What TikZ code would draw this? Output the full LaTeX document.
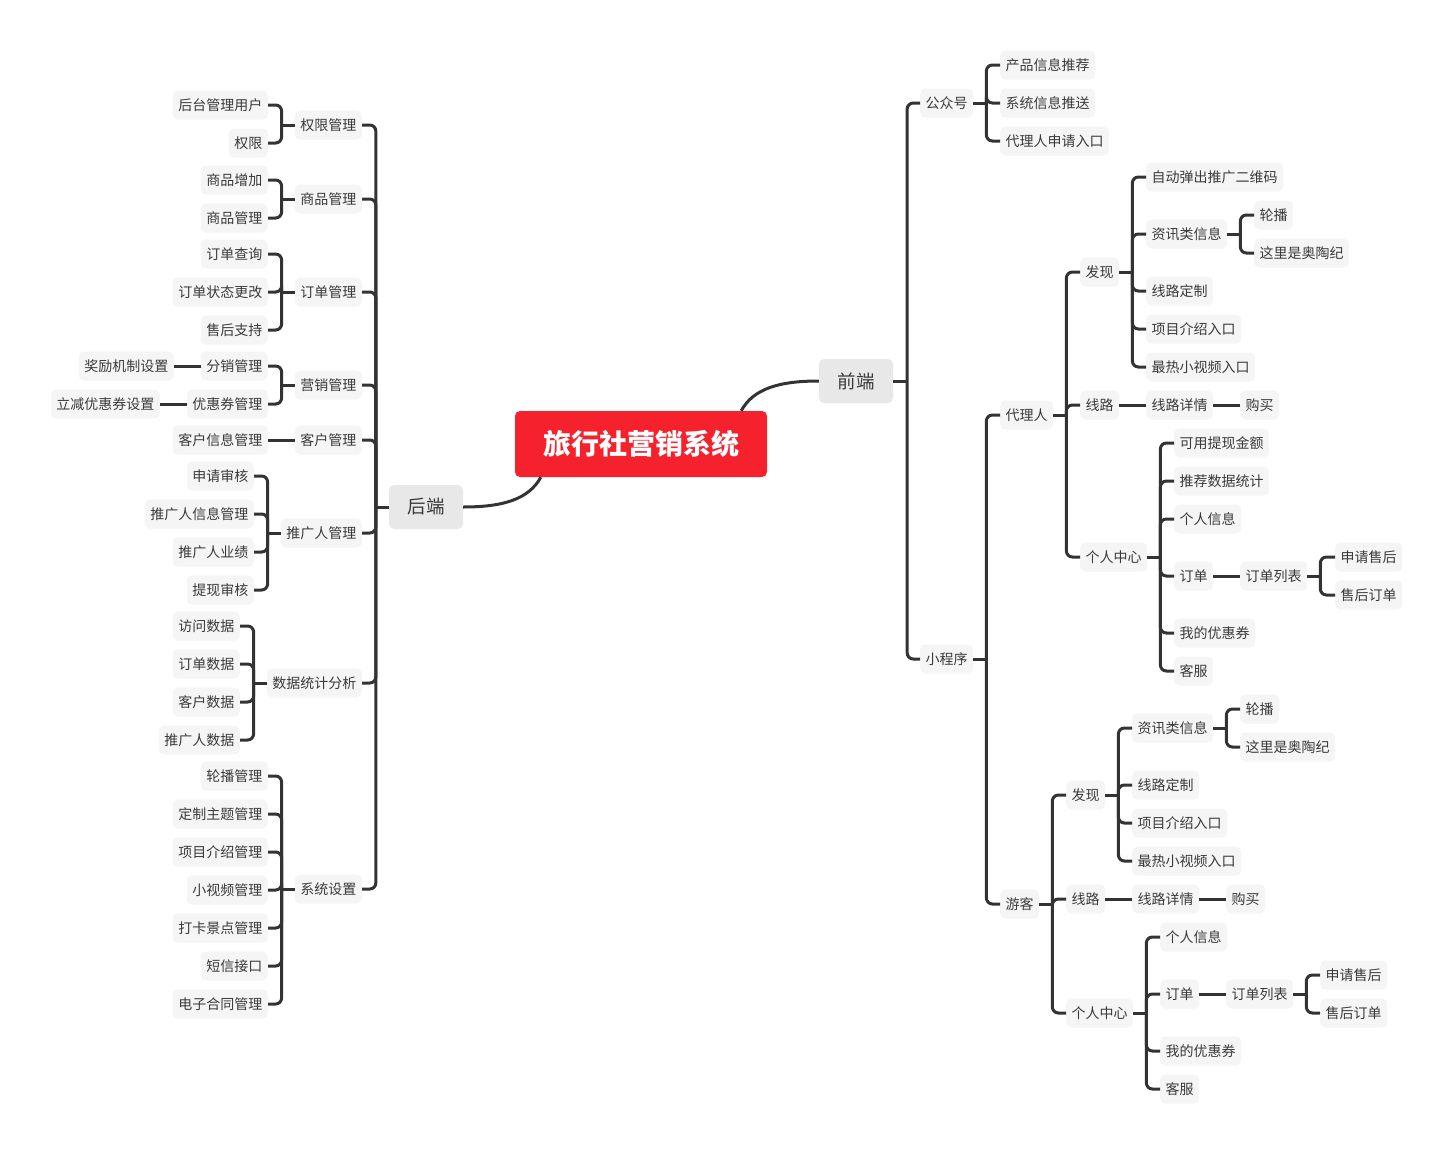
\documentclass[tikz,border=0pt]{standalone}
\usepackage{fontspec}
\setmainfont{Noto Sans CJK SC}
\usepackage{tikz}
\usetikzlibrary{positioning}
\usetikzlibrary{calc}
\definecolor{linkgray}{HTML}{333333}
\definecolor{textgray}{HTML}{3A3A3A}
\definecolor{leafgray}{HTML}{F5F5F5}
\definecolor{topicgray}{HTML}{E8E8E8}
\definecolor{rootred}{HTML}{F5222D}
\tikzset {
  % leaf boxes
  leaf/.style = {fill=leafgray, rounded corners=5pt, text=textgray, inner xsep=5.5pt, inner ysep=0pt,
    minimum height=29pt, font=\fontsize{14}{16}\selectfont},
  lft/.style = {leaf, anchor=east},
  rgt/.style = {leaf, anchor=west},
  % the two main branches
  topic/.style = {fill=topicgray, rounded corners=5pt, text=textgray, minimum width=74pt,
    minimum height=44pt, font=\fontsize{18.5}{20}\selectfont},
  % central topic
  root/.style = {fill=rootred, rounded corners=5pt, text=white, minimum width=252pt,
    minimum height=66pt, font=\fontsize{28}{30}\selectfont\bfseries},
  % connectors
  link/.style = {draw=linkgray, line width=3pt},
  branch/.style = {link, rounded corners=6pt},
}

\begin{document}
\begin{tikzpicture}[x=1pt, y=-1pt]
      \useasboundingbox (0,0) rectangle (1452,1154);

      \node[root] (root) at (641,444) {旅行社营销系统};
      \node[topic] (fe) at (856,381) {前端};
      \node[topic] (be) at (426,507) {后端};

      % 前端
      \node[rgt] (gzh) at (920,103) {公众号};
      \node[rgt] (gzh1) at (1000,65) {产品信息推荐};
      \node[rgt] (gzh2) at (1000,103) {系统信息推送};
      \node[rgt] (gzh3) at (1000,141) {代理人申请入口};

      \node[rgt] (xcx) at (920,659) {小程序};
      \node[rgt] (dl) at (1000,415) {代理人};
      \node[rgt] (yk) at (1000,904) {游客};

      \node[rgt] (dlfx) at (1080,272) {发现};
      \node[rgt] (dlxl) at (1080,405) {线路};
      \node[rgt] (dlgr) at (1080,557) {个人中心};

      \node[rgt] (dlfx1) at (1146,177) {自动弹出推广二维码};
      \node[rgt] (dlfx2) at (1146,234) {资讯类信息};
      \node[rgt] (dlfx3) at (1146,291) {线路定制};
      \node[rgt] (dlfx4) at (1146,329) {项目介绍入口};
      \node[rgt] (dlfx5) at (1146,367) {最热小视频入口};
      \node[rgt] (dlzx1) at (1254,215) {轮播};
      \node[rgt] (dlzx2) at (1254,253) {这里是奥陶纪};

      \node[rgt] (dlxq) at (1146,405) {线路详情};
      \node[rgt] (dlgm) at (1240,405) {购买};

      \node[rgt] (dlgr1) at (1174,443) {可用提现金额};
      \node[rgt] (dlgr2) at (1174,481) {推荐数据统计};
      \node[rgt] (dlgr3) at (1174,519) {个人信息};
      \node[rgt] (dlgr4) at (1174,576) {订单};
      \node[rgt] (dlgr5) at (1174,633) {我的优惠券};
      \node[rgt] (dlgr6) at (1174,671) {客服};
      \node[rgt] (dllb) at (1240,576) {订单列表};
      \node[rgt] (dlsh1) at (1335,557) {申请售后};
      \node[rgt] (dlsh2) at (1335,595) {售后订单};

      \node[rgt] (ykfx) at (1066,795) {发现};
      \node[rgt] (ykxl) at (1066,899) {线路};
      \node[rgt] (ykgr) at (1066,1013) {个人中心};

      \node[rgt] (ykfx1) at (1132,728) {资讯类信息};
      \node[rgt] (ykfx2) at (1132,785) {线路定制};
      \node[rgt] (ykfx3) at (1132,823) {项目介绍入口};
      \node[rgt] (ykfx4) at (1132,861) {最热小视频入口};
      \node[rgt] (ykzx1) at (1240,709) {轮播};
      \node[rgt] (ykzx2) at (1240,747) {这里是奥陶纪};

      \node[rgt] (ykxq) at (1132,899) {线路详情};
      \node[rgt] (ykgm) at (1226,899) {购买};

      \node[rgt] (ykgr1) at (1160,937) {个人信息};
      \node[rgt] (ykgr2) at (1160,994) {订单};
      \node[rgt] (ykgr3) at (1160,1051) {我的优惠券};
      \node[rgt] (ykgr4) at (1160,1089) {客服};
      \node[rgt] (yklb) at (1226,994) {订单列表};
      \node[rgt] (yksh1) at (1320,975) {申请售后};
      \node[rgt] (yksh2) at (1320,1013) {售后订单};

      % 后端
      \node[lft] (qx) at (362,125) {权限管理};
      \node[lft] (qx1) at (268,105) {后台管理用户};
      \node[lft] (qx2) at (268,143) {权限};

      \node[lft] (sp) at (362,199) {商品管理};
      \node[lft] (sp1) at (268,180) {商品增加};
      \node[lft] (sp2) at (268,218) {商品管理};

      \node[lft] (dd) at (362,292) {订单管理};
      \node[lft] (dd1) at (268,254) {订单查询};
      \node[lft] (dd2) at (268,292) {订单状态更改};
      \node[lft] (dd3) at (268,330) {售后支持};

      \node[lft] (yx) at (362,385) {营销管理};
      \node[lft] (yx1) at (268,366) {分销管理};
      \node[lft] (yx2) at (268,404) {优惠券管理};
      \node[lft] (yx1a) at (174,366) {奖励机制设置};
      \node[lft] (yx2a) at (160,404) {立减优惠券设置};

      \node[lft] (kh) at (362,440) {客户管理};
      \node[lft] (kh1) at (268,440) {客户信息管理};

      \node[lft] (tg) at (362,533) {推广人管理};
      \node[lft] (tg1) at (254,476) {申请审核};
      \node[lft] (tg2) at (254,514) {推广人信息管理};
      \node[lft] (tg3) at (254,552) {推广人业绩};
      \node[lft] (tg4) at (254,590) {提现审核};

      \node[lft] (sj) at (362,683) {数据统计分析};
      \node[lft] (sj1) at (240,626) {访问数据};
      \node[lft] (sj2) at (240,664) {订单数据};
      \node[lft] (sj3) at (240,702) {客户数据};
      \node[lft] (sj4) at (240,740) {推广人数据};

      \node[lft] (xt) at (362,889) {系统设置};
      \node[lft] (xt1) at (268,776) {轮播管理};
      \node[lft] (xt2) at (268,814) {定制主题管理};
      \node[lft] (xt3) at (268,852) {项目介绍管理};
      \node[lft] (xt4) at (268,890) {小视频管理};
      \node[lft] (xt5) at (268,928) {打卡景点管理};
      \node[lft] (xt6) at (268,966) {短信接口};
      \node[lft] (xt7) at (268,1004) {电子合同管理};

      % root to the two main branches
      \coordinate (root-fe) at ($(root.north east)+(-26,0)$);
      \coordinate (root-be) at ($(root.south west)+(26,0)$);
      \draw[link] (root-fe) .. controls +(12,-22) and +(-40,0) .. (fe.west);
      \draw[link] (root-be) .. controls +(-12,22) and +(40,0) .. (be.east);

      % 前端 connectors
      \draw[link] (fe.east) -- ++(14,0) coordinate (fe-t);
      \draw[branch] (fe-t) |- (gzh.west);
      \draw[branch] (fe-t) |- (xcx.west);

      \draw[link] (gzh.east) -- ++(13,0) coordinate (gzh-t);
      \draw[branch] (gzh-t) |- (gzh1.west);
      \draw[branch] (gzh-t) |- (gzh2.west);
      \draw[branch] (gzh-t) |- (gzh3.west);

      \draw[link] (xcx.east) -- ++(13,0) coordinate (xcx-t);
      \draw[branch] (xcx-t) |- (dl.west);
      \draw[branch] (xcx-t) |- (yk.west);

      \draw[link] (dl.east) -- ++(13,0) coordinate (dl-t);
      \draw[branch] (dl-t) |- (dlfx.west);
      \draw[branch] (dl-t) |- (dlxl.west);
      \draw[branch] (dl-t) |- (dlgr.west);

      \draw[link] (dlfx.east) -- ++(13,0) coordinate (dlfx-t);
      \draw[branch] (dlfx-t) |- (dlfx1.west);
      \draw[branch] (dlfx-t) |- (dlfx2.west);
      \draw[branch] (dlfx-t) |- (dlfx3.west);
      \draw[branch] (dlfx-t) |- (dlfx4.west);
      \draw[branch] (dlfx-t) |- (dlfx5.west);

      \draw[link] (dlfx2.east) -- ++(13,0) coordinate (dlzx-t);
      \draw[branch] (dlzx-t) |- (dlzx1.west);
      \draw[branch] (dlzx-t) |- (dlzx2.west);

      \draw[link] (dlxl) -- (dlxq);
      \draw[link] (dlxq) -- (dlgm);

      \draw[link] (dlgr.east) -- ++(13,0) coordinate (dlgr-t);
      \draw[branch] (dlgr-t) |- (dlgr1.west);
      \draw[branch] (dlgr-t) |- (dlgr2.west);
      \draw[branch] (dlgr-t) |- (dlgr3.west);
      \draw[branch] (dlgr-t) |- (dlgr4.west);
      \draw[branch] (dlgr-t) |- (dlgr5.west);
      \draw[branch] (dlgr-t) |- (dlgr6.west);

      \draw[link] (dlgr4) -- (dllb);
      \draw[link] (dllb.east) -- ++(13,0) coordinate (dllb-t);
      \draw[branch] (dllb-t) |- (dlsh1.west);
      \draw[branch] (dllb-t) |- (dlsh2.west);

      \draw[link] (yk.east) -- ++(13,0) coordinate (yk-t);
      \draw[branch] (yk-t) |- (ykfx.west);
      \draw[branch] (yk-t) |- (ykxl.west);
      \draw[branch] (yk-t) |- (ykgr.west);

      \draw[link] (ykfx.east) -- ++(13,0) coordinate (ykfx-t);
      \draw[branch] (ykfx-t) |- (ykfx1.west);
      \draw[branch] (ykfx-t) |- (ykfx2.west);
      \draw[branch] (ykfx-t) |- (ykfx3.west);
      \draw[branch] (ykfx-t) |- (ykfx4.west);

      \draw[link] (ykfx1.east) -- ++(13,0) coordinate (ykzx-t);
      \draw[branch] (ykzx-t) |- (ykzx1.west);
      \draw[branch] (ykzx-t) |- (ykzx2.west);

      \draw[link] (ykxl) -- (ykxq);
      \draw[link] (ykxq) -- (ykgm);

      \draw[link] (ykgr.east) -- ++(13,0) coordinate (ykgr-t);
      \draw[branch] (ykgr-t) |- (ykgr1.west);
      \draw[branch] (ykgr-t) |- (ykgr2.west);
      \draw[branch] (ykgr-t) |- (ykgr3.west);
      \draw[branch] (ykgr-t) |- (ykgr4.west);

      \draw[link] (ykgr2) -- (yklb);
      \draw[link] (yklb.east) -- ++(13,0) coordinate (yklb-t);
      \draw[branch] (yklb-t) |- (yksh1.west);
      \draw[branch] (yklb-t) |- (yksh2.west);

      % 后端 connectors
      \draw[link] (be.west) -- ++(-13,0) coordinate (be-t);
      \draw[branch] (be-t) |- (qx.east);
      \draw[branch] (be-t) |- (sp.east);
      \draw[branch] (be-t) |- (dd.east);
      \draw[branch] (be-t) |- (yx.east);
      \draw[branch] (be-t) |- (kh.east);
      \draw[branch] (be-t) |- (tg.east);
      \draw[branch] (be-t) |- (sj.east);
      \draw[branch] (be-t) |- (xt.east);

      \draw[link] (qx.west) -- ++(-13,0) coordinate (qx-t);
      \draw[branch] (qx-t) |- (qx1.east);
      \draw[branch] (qx-t) |- (qx2.east);

      \draw[link] (sp.west) -- ++(-13,0) coordinate (sp-t);
      \draw[branch] (sp-t) |- (sp1.east);
      \draw[branch] (sp-t) |- (sp2.east);

      \draw[link] (dd.west) -- ++(-13,0) coordinate (dd-t);
      \draw[branch] (dd-t) |- (dd1.east);
      \draw[branch] (dd-t) |- (dd2.east);
      \draw[branch] (dd-t) |- (dd3.east);

      \draw[link] (yx.west) -- ++(-13,0) coordinate (yx-t);
      \draw[branch] (yx-t) |- (yx1.east);
      \draw[branch] (yx-t) |- (yx2.east);
      \draw[link] (yx1) -- (yx1a);
      \draw[link] (yx2) -- (yx2a);

      \draw[link] (kh) -- (kh1);

      \draw[link] (tg.west) -- ++(-13,0) coordinate (tg-t);
      \draw[branch] (tg-t) |- (tg1.east);
      \draw[branch] (tg-t) |- (tg2.east);
      \draw[branch] (tg-t) |- (tg3.east);
      \draw[branch] (tg-t) |- (tg4.east);

      \draw[link] (sj.west) -- ++(-13,0) coordinate (sj-t);
      \draw[branch] (sj-t) |- (sj1.east);
      \draw[branch] (sj-t) |- (sj2.east);
      \draw[branch] (sj-t) |- (sj3.east);
      \draw[branch] (sj-t) |- (sj4.east);

      \draw[link] (xt.west) -- ++(-13,0) coordinate (xt-t);
      \draw[branch] (xt-t) |- (xt1.east);
      \draw[branch] (xt-t) |- (xt2.east);
      \draw[branch] (xt-t) |- (xt3.east);
      \draw[branch] (xt-t) |- (xt4.east);
      \draw[branch] (xt-t) |- (xt5.east);
      \draw[branch] (xt-t) |- (xt6.east);
      \draw[branch] (xt-t) |- (xt7.east);
    \end{tikzpicture}
\end{document}
